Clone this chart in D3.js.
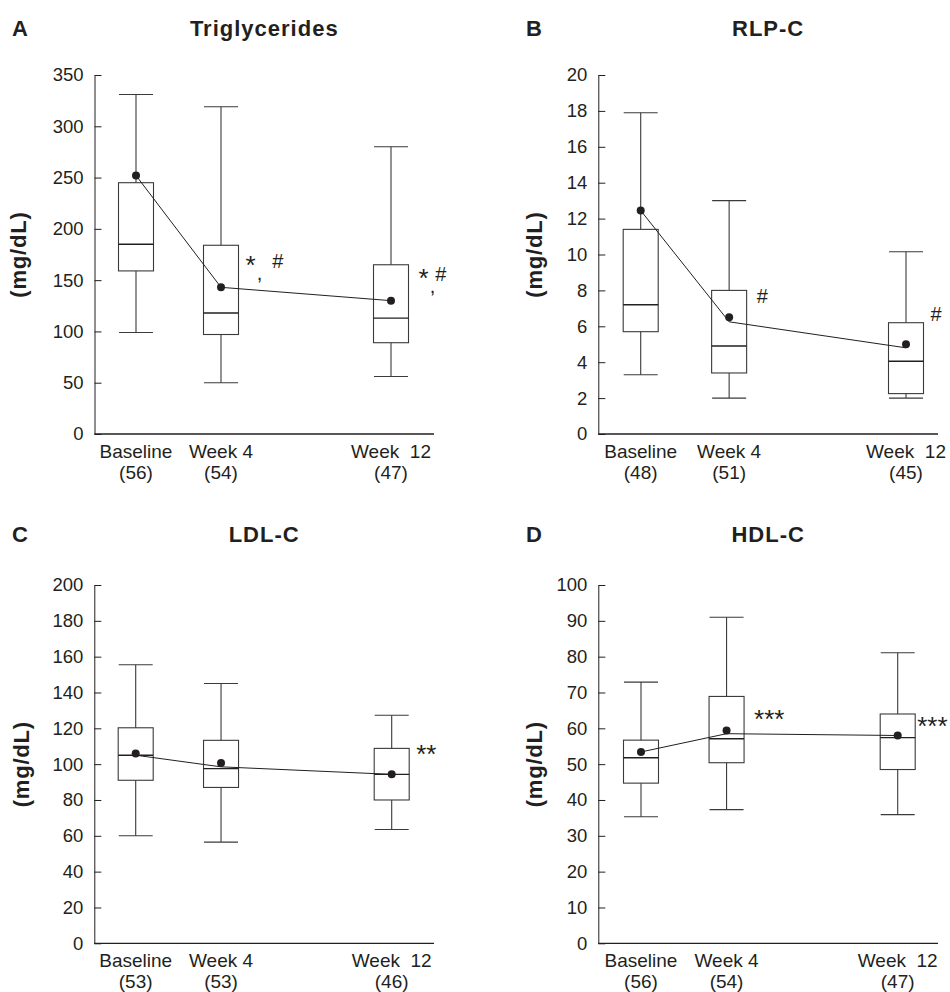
<!DOCTYPE html>
<html>
<head>
<meta charset="utf-8">
<script src="https://cdn.jsdelivr.net/npm/d3@7"></script>
<style>
  body { margin: 0; background: #fff; }
  svg text { font-family: "Liberation Sans", Arial, Helvetica, sans-serif; fill: #231f20; }
</style>
</head>
<body>
<div id="chart"></div>
<script>
// Time points (weeks) and their axis labels
const weeks = [0, 4, 12];
const timeLabels = ["Baseline", "Week 4", "Week  12"];

// A - Triglycerides
const tgN = [56, 54, 47];
const tgMin = [99, 50, 56];
const tgQ1 = [159, 97, 89];
const tgMedian = [185, 118, 113];
const tgQ3 = [245, 184, 165];
const tgMax = [331, 319, 280];
const tgMean = [252, 143, 130];
const tgMeanLine = [252, 143, 130];
const tgMarks = ["", "*, #", "*,#"];
const tgTicks = [0, 50, 100, 150, 200, 250, 300, 350];

// B - RLP-C
const rlpN = [48, 51, 45];
const rlpMin = [3.3, 2.0, 2.0];
const rlpQ1 = [5.7, 3.4, 2.25];
const rlpMedian = [7.2, 4.9, 4.05];
const rlpQ3 = [11.4, 8.0, 6.2];
const rlpMax = [17.9, 13.0, 10.15];
const rlpMean = [12.45, 6.5, 5.0];
const rlpMeanLine = [12.45, 6.25, 4.8];
const rlpMarks = ["", "#", "#"];
const rlpTicks = [0, 2, 4, 6, 8, 10, 12, 14, 16, 18, 20];

// C - LDL-C
const ldlN = [53, 53, 46];
const ldlMin = [60, 56.5, 63.5];
const ldlQ1 = [91, 87, 80];
const ldlMedian = [105, 97.5, 94.3];
const ldlQ3 = [120.3, 113.3, 108.8];
const ldlMax = [155.5, 145, 127.3];
const ldlMean = [106, 100.7, 94.3];
const ldlMeanLine = [105, 98.5, 94.3];
const ldlMarks = ["", "", "**"];
const ldlTicks = [0, 20, 40, 60, 80, 100, 120, 140, 160, 180, 200];

// D - HDL-C
const hdlN = [56, 54, 47];
const hdlMin = [35.3, 37.3, 35.9];
const hdlQ1 = [44.7, 50.4, 48.5];
const hdlMedian = [51.8, 57.1, 57.4];
const hdlQ3 = [56.7, 68.9, 64.0];
const hdlMax = [72.9, 91.0, 81.1];
const hdlMean = [53.4, 59.4, 58.0];
const hdlMeanLine = [53.4, 58.5, 58.0];
const hdlMarks = ["", "***", "***"];
const hdlTicks = [0, 10, 20, 30, 40, 50, 60, 70, 80, 90, 100];

// Panel layout (pixels) - one entry per panel
const panels = [
  {letter: "A", title: "Triglycerides", letterX: 12, titleY: 36,
   axisX: 94.5, axisRight: 434, yRange: [434, 75], xRange: [136, 391], yMax: 350, labelX: 25.5,
   n: tgN, min: tgMin, q1: tgQ1, med: tgMedian, q3: tgQ3, max: tgMax, mean: tgMean, line: tgMeanLine,
   marks: tgMarks, markY: [0, 150.1, 137.5], markDx: [0, 7, 10], ticks: tgTicks},
  {letter: "B", title: "RLP-C", letterX: 526, titleY: 36,
   axisX: 598.3, axisRight: 938, yRange: [434, 75], xRange: [640.7, 906], yMax: 20, labelX: 542,
   n: rlpN, min: rlpMin, q1: rlpQ1, med: rlpMedian, q3: rlpQ3, max: rlpMax, mean: rlpMean, line: rlpMeanLine,
   marks: rlpMarks, markY: [0, 7.3, 6.3], markDx: [0, 10, 7], ticks: rlpTicks},
  {letter: "C", title: "LDL-C", letterX: 12, titleY: 542,
   axisX: 94.3, axisRight: 434, yRange: [943.3, 585], xRange: [135.7, 391.7], yMax: 200, labelX: 29,
   n: ldlN, min: ldlMin, q1: ldlQ1, med: ldlMedian, q3: ldlQ3, max: ldlMax, mean: ldlMean, line: ldlMeanLine,
   marks: ldlMarks, markY: [0, 0, 100.6], markDx: [0, 0, 7], ticks: ldlTicks},
  {letter: "D", title: "HDL-C", letterX: 526, titleY: 542,
   axisX: 598.3, axisRight: 938, yRange: [943.3, 585], xRange: [641, 897.7], yMax: 100, labelX: 542,
   n: hdlN, min: hdlMin, q1: hdlQ1, med: hdlMedian, q3: hdlQ3, max: hdlMax, mean: hdlMean, line: hdlMeanLine,
   marks: hdlMarks, markY: [0, 60.1, 58.05], markDx: [0, 10, 2], ticks: hdlTicks}
];

var width = 950, height = 992;
var boxW = 35, capW = 34;
var ink = "#231f20";

var svg = d3.select("#chart")
  .append("svg")
  .attr("width", width)
  .attr("height", height);

panels.forEach(function (p) {
  var g = svg.append("g");

  var y = d3.scaleLinear().domain([0, p.yMax]).range(p.yRange);
  var x = d3.scaleLinear().domain([0, 12]).range(p.xRange);

  // Panel letter and title
  g.append("text")
    .attr("x", p.letterX).attr("y", p.titleY)
    .style("font-size", "22px").style("font-weight", "bold")
    .text(p.letter);
  g.append("text")
    .attr("x", (p.axisX + p.axisRight) / 2).attr("y", p.titleY)
    .attr("text-anchor", "middle")
    .style("font-size", "22px").style("font-weight", "bold")
    .style("letter-spacing", "1px")
    .text(p.title);

  // Y axis, ticks pointing inward
  var yAxis = g.append("g")
    .attr("transform", "translate(" + p.axisX + ",0)")
    .call(d3.axisLeft(y).tickValues(p.ticks).tickSizeInner(-7).tickSizeOuter(0).tickPadding(11));
  yAxis.selectAll("path, line").attr("stroke", ink);
  yAxis.selectAll("text").style("font-size", "18.5px").attr("fill", ink);

  // X axis line
  g.append("line")
    .attr("x1", p.axisX).attr("x2", p.axisRight)
    .attr("y1", y(0)).attr("y2", y(0))
    .attr("stroke", ink).attr("stroke-width", 1.3);

  // Y label
  g.append("text")
    .attr("transform", "translate(" + p.labelX + "," + ((p.yRange[0] + p.yRange[1]) / 2) + ") rotate(-90)")
    .attr("text-anchor", "middle")
    .style("font-size", "22px").style("font-weight", "bold")
    .style("letter-spacing", "0.8px")
    .text("(mg/dL)");

  // Category labels
  weeks.forEach(function (w, i) {
    g.append("text")
      .attr("x", x(w)).attr("y", y(0) + 24)
      .attr("text-anchor", "middle")
      .style("font-size", "19px").style("white-space", "pre")
      .text(timeLabels[i]);
    g.append("text")
      .attr("x", x(w)).attr("y", y(0) + 45)
      .attr("text-anchor", "middle")
      .style("font-size", "19px")
      .text("(" + p.n[i] + ")");
  });

  // Box plots
  weeks.forEach(function (w, i) {
    var cx = x(w);
    var b = g.append("g").attr("stroke", "#3a3a3a").attr("stroke-width", 1.1).attr("fill", "none");
    b.append("line").attr("x1", cx).attr("x2", cx).attr("y1", y(p.max[i])).attr("y2", y(p.q3[i]));
    b.append("line").attr("x1", cx).attr("x2", cx).attr("y1", y(p.q1[i])).attr("y2", y(p.min[i]));
    b.append("line").attr("x1", cx - capW / 2).attr("x2", cx + capW / 2).attr("y1", y(p.max[i])).attr("y2", y(p.max[i]));
    b.append("line").attr("x1", cx - capW / 2).attr("x2", cx + capW / 2).attr("y1", y(p.min[i])).attr("y2", y(p.min[i]));
    b.append("rect")
      .attr("x", cx - boxW / 2).attr("y", y(p.q3[i]))
      .attr("width", boxW).attr("height", y(p.q1[i]) - y(p.q3[i]));
    b.append("line").attr("x1", cx - boxW / 2).attr("x2", cx + boxW / 2)
      .attr("y1", y(p.med[i])).attr("y2", y(p.med[i])).attr("stroke", ink).attr("stroke-width", 1.4);
  });

  // Mean line and dots
  g.append("path")
    .datum(weeks.map(function (w, i) { return [w, p.line[i]]; }))
    .attr("d", d3.line().x(function (d) { return x(d[0]); }).y(function (d) { return y(d[1]); }))
    .attr("fill", "none").attr("stroke", ink).attr("stroke-width", 1);
  g.selectAll(".dot")
    .data(weeks.map(function (w, i) { return [w, p.mean[i]]; }))
    .enter().append("circle")
    .attr("cx", function (d) { return x(d[0]); })
    .attr("cy", function (d) { return y(d[1]); })
    .attr("r", 4)
    .attr("fill", ink);

  // Significance marks: with a comma, '*' and '#' sit raised above it
  weeks.forEach(function (w, i) {
    if (!p.marks[i]) return;
    var t = g.append("text")
      .attr("x", x(w) + boxW / 2 + p.markDx[i])
      .attr("y", y(p.markY[i]))
      .style("font-size", "20px");
    var withComma = p.marks[i].indexOf(",") >= 0;
    var level = 0, gap = 0;
    p.marks[i].split("").forEach(function (ch) {
      if (ch === " ") { gap += 10; return; }
      var want = 0;
      if (withComma && ch === "*") want = -6;
      if (withComma && ch === "#") want = -12;
      var s = t.append("tspan").attr("dy", want - level).text(ch);
      var dx = gap + (ch === "," ? 1 : 0);
      if (dx) s.attr("dx", dx);
      if (ch === "*") s.style("font-size", "26px");
      gap = 0;
      level = want;
    });
  });
});
</script>
</body>
</html>
